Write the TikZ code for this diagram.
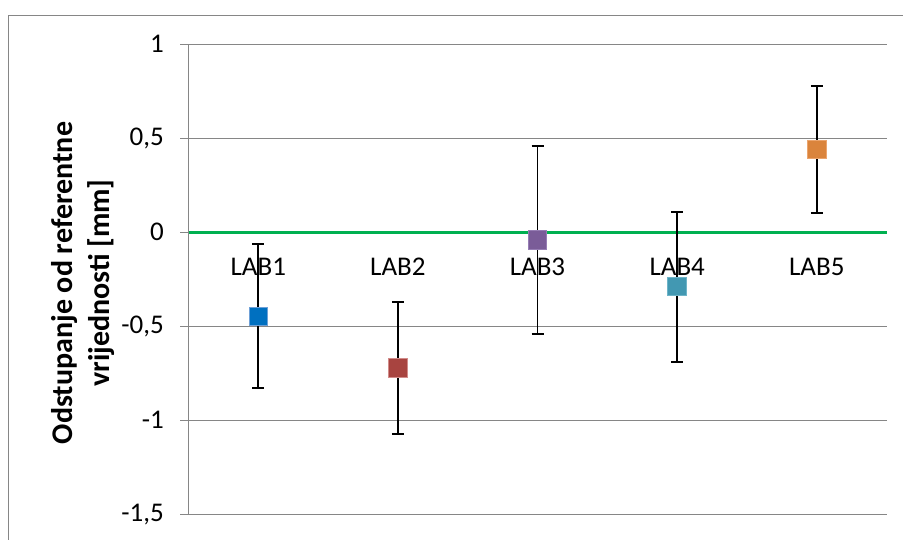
\documentclass[tikz,border=0pt]{standalone}
\usepackage{fontspec}
\setmainfont{Carlito}
\definecolor{framegray}{RGB}{134,134,134}
\definecolor{gridgray}{RGB}{134,134,134}
\definecolor{zerogreen}{RGB}{0,176,80}
\definecolor{c1}{RGB}{0,112,192}\definecolor{b1}{RGB}{110,160,215}
\definecolor{c2}{RGB}{168,68,64}\definecolor{b2}{RGB}{210,140,138}
\definecolor{c3}{RGB}{122,92,152}\definecolor{b3}{RGB}{150,125,180}
\definecolor{c4}{RGB}{66,152,178}\definecolor{b4}{RGB}{110,180,200}
\definecolor{c5}{RGB}{218,132,60}\definecolor{b5}{RGB}{235,165,110}
\tikzset{
  frameline/.style={draw=framegray,line width=1.2pt},
  gridline/.style={draw=gridgray,line width=1.4pt},
  zeroline/.style={draw=zerogreen,line width=3pt},
  ebar/.style={draw=black,line width=1.7pt},
  marker/.style={rectangle,minimum size=18.5pt,inner sep=0pt,line width=1pt},
  ticklabel/.style={anchor=east,inner sep=0pt,font=\fontsize{27}{32}\selectfont},
  catlabel/.style={anchor=base,inner sep=0pt,font=\fontsize{27}{32}\selectfont},
  axtitle/.style={rotate=90,align=center,inner sep=0pt,font=\fontsize{30}{36.5}\selectfont\bfseries}
}
\begin{document}
\begin{tikzpicture}[x=1pt,y=-1pt]
\useasboundingbox (0,0) rectangle (903,539);
% outer frame (cropped at right and bottom)
\draw[frameline] (8.5,560) -- (8.5,15.5) -- (920,15.5);
% grid lines with ticks
\foreach \yy in {44.3,138.3,326.3,420.3,514.3}{
  \draw[gridline] (180,\yy) -- (886.7,\yy);
}
\draw[gridline] (180,232.3) -- (188.5,232.3);
\draw[gridline] (188.5,44.3) -- (188.5,514.3);
% zero line
\coordinate (z0) at (188.5,232.3);
\coordinate (z1) at (886.7,232.3);
\draw[zeroline] (z0) -- (z1);
% tick labels
\node[ticklabel] (t1) at (164,44.3) {1};
\node[ticklabel] (t2) at (164,138.3) {0,5};
\node[ticklabel] (t3) at (164,232.3) {0};
\node[ticklabel] (t4) at (164,326.3) {-0,5};
\node[ticklabel] (t5) at (164,420.3) {-1};
\node[ticklabel] (t6) at (164,514.3) {-1,5};
% axis title
\node[axtitle] (ytitle) at (83,283) {Odstupanje od referentne\\vrijednosti [mm]};
% error bars
\foreach \i/\xx/\yt/\yb in {1/258.3/244.3/387.7, 2/397.9/302.3/434, 3/537.5/146/334, 4/677.2/211.7/362.3, 5/816.8/85.7/213}{
  \coordinate (e\i t) at (\xx,\yt);
  \coordinate (e\i b) at (\xx,\yb);
  \coordinate (e\i tl) at (\xx-6,\yt);
  \coordinate (e\i tr) at (\xx+6,\yt);
  \coordinate (e\i bl) at (\xx-6,\yb);
  \coordinate (e\i br) at (\xx+6,\yb);
  \draw[ebar] (e\i t) -- (e\i b);
  \draw[ebar] (e\i tl) -- (e\i tr);
  \draw[ebar] (e\i bl) -- (e\i br);
}
% markers
\node[marker,fill=c1,draw=b1] (m1) at (258.3,316.7) {};
\node[marker,fill=c2,draw=b2] (m2) at (397.9,367.8) {};
\node[marker,fill=c3,draw=b3] (m3) at (537.5,240) {};
\node[marker,fill=c4,draw=b4] (m4) at (677.2,286.7) {};
\node[marker,fill=c5,draw=b5] (m5) at (816.8,149.3) {};
% category labels
\node[catlabel] (l1) at (258.3,275) {LAB1};
\node[catlabel] (l2) at (397.9,275) {LAB2};
\node[catlabel] (l3) at (537.5,275) {LAB3};
\node[catlabel] (l4) at (677.2,275) {LAB4};
\node[catlabel] (l5) at (816.8,275) {LAB5};
\end{tikzpicture}
\end{document}
